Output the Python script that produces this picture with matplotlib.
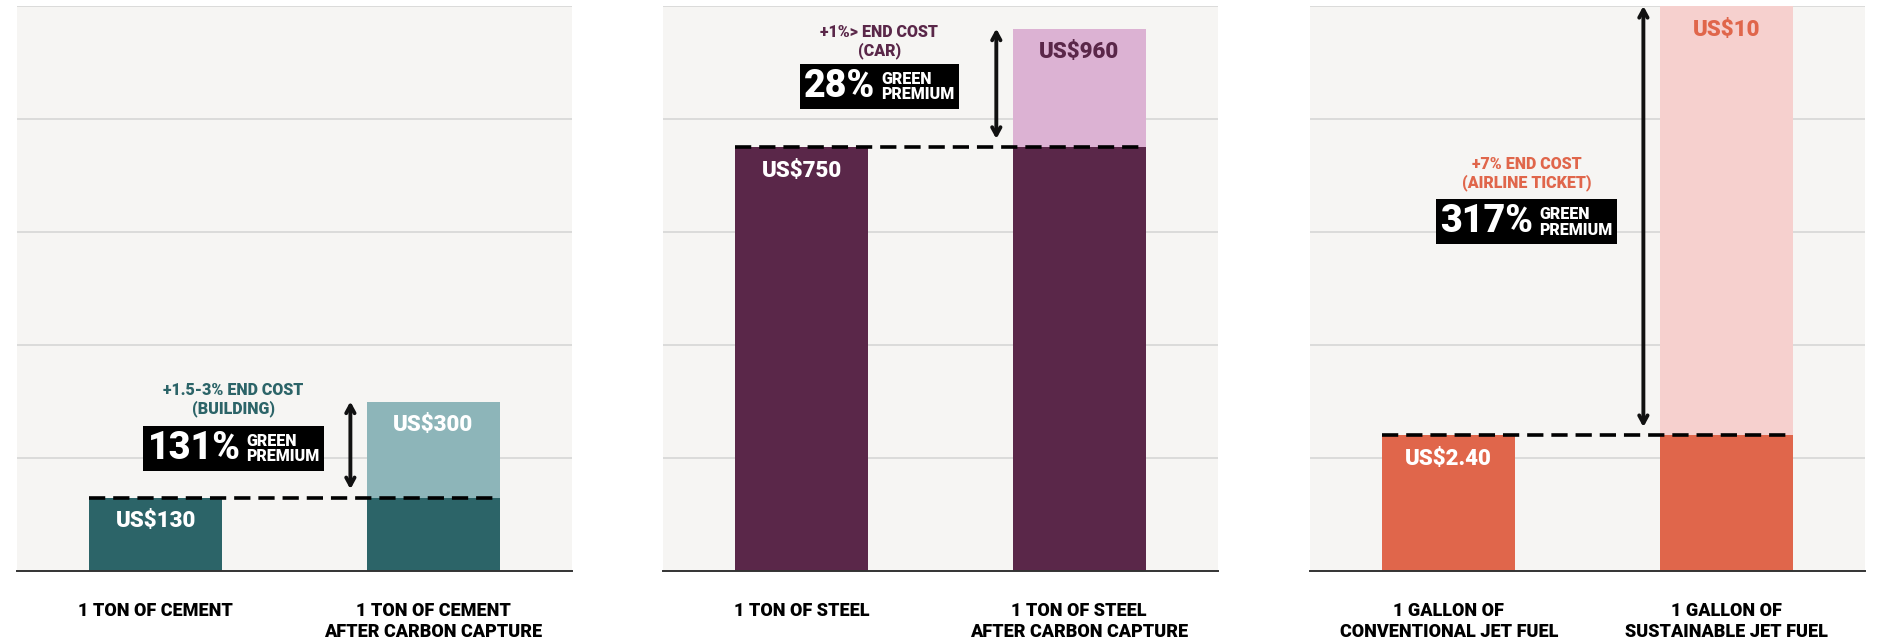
import matplotlib.pyplot as plt
from matplotlib.offsetbox import TextArea, HPacker, AnnotationBbox

plt.rcParams['font.family'] = ['Roboto', 'DejaVu Sans']
plt.rcParams['font.weight'] = 'heavy'

# unit cost before / after switching to the low-carbon option
categories = [
    ['1 TON OF CEMENT', '1 TON OF CEMENT\nAFTER CARBON CAPTURE'],
    ['1 TON OF STEEL', '1 TON OF STEEL\nAFTER CARBON CAPTURE'],
    ['1 GALLON OF\nCONVENTIONAL JET FUEL', '1 GALLON OF\nSUSTAINABLE JET FUEL'],
]
base_cost = [130, 750, 2.40]
green_cost = [300, 960, 10]
premium = ['131%', '28%', '317%']
end_cost = ['+1.5-3% END COST\n(BUILDING)', '+1%> END COST\n(CAR)', '+7% END COST\n(AIRLINE TICKET)']
y_max = [1000, 1000, 10]
y_step = [200, 200, 2]

dark = ['#2c6468', '#5a2749', '#e0664b']
light = ['#8db5b9', '#dcb2d3', '#f6d0ce']
top_label = ['white', '#5a2749', '#e0664b']
# where the premium box and the end-cost note sit (axes fraction)
box_y = [0.217, 0.857, 0.618]
note_y = [0.304, 0.937, 0.703]

BG = '#f6f5f3'


def money(v):
    return f'US${v:.2f}' if v % 1 else f'US${v:.0f}'


fig = plt.figure(figsize=(18.97, 6.38), dpi=100)
lefts = [0.009, 0.3495, 0.6906]

for i in range(3):
    ax = fig.add_axes([lefts[i], 0.105, 0.2925, 0.8856])
    ax.set_facecolor(BG)
    w = 0.48
    lo, hi = base_cost[i], green_cost[i]

    ax.bar([0, 1], [lo, lo], width=w, color=dark[i], zorder=2)
    ax.bar([1], [hi - lo], bottom=[lo], width=w, color=light[i], zorder=2)

    # dashed reference line at the conventional price
    ax.plot([-w / 2, 1 + w / 2], [lo, lo], color='black', lw=2.6,
            linestyle=(0, (4.5, 2.2)), zorder=3, solid_capstyle='butt')

    ax.annotate(money(lo), (0, lo), xytext=(0, -17), textcoords='offset points',
                ha='center', va='center', color='white', fontsize=16, zorder=4)
    ax.annotate(money(hi), (1, hi), xytext=(0, -17), textcoords='offset points',
                ha='center', va='center', color=top_label[i], fontsize=16, zorder=4)

    # double arrow spanning the premium
    ax.annotate('', xy=(0.6007, hi), xycoords=('axes fraction', 'data'),
                xytext=(0.6007, lo), textcoords=('axes fraction', 'data'),
                arrowprops=dict(arrowstyle='<->, head_length=0.55, head_width=0.3',
                                lw=2.8, color='#111111', shrinkA=6, shrinkB=0),
                annotation_clip=False, zorder=5)

    packer = HPacker(children=[
        TextArea(premium[i], textprops=dict(color='white', fontsize=27, fontweight='heavy')),
        TextArea('GREEN\nPREMIUM', textprops=dict(color='white', fontsize=11.5,
                                                   fontweight='heavy', linespacing=0.95)),
    ], align='center', pad=0, sep=4)
    ab = AnnotationBbox(packer, (0.39, box_y[i]), xycoords='axes fraction',
                        frameon=True, pad=0.4, box_alignment=(0.5, 0.5),
                        bboxprops=dict(facecolor='black', edgecolor='none', boxstyle='square'),
                        zorder=6)
    ax.add_artist(ab)

    ax.text(0.39, note_y[i], end_cost[i], transform=ax.transAxes, ha='center',
            va='center', color=dark[i], fontsize=11.5, linespacing=1.15)

    ax.set_xlim(-0.5, 1.5)
    ax.set_ylim(0, y_max[i])
    ax.set_yticks([y_step[i] * k for k in range(1, 6)])
    ax.yaxis.grid(True, color='#d6d6d6', lw=1.2, zorder=0)
    ax.set_yticklabels([])
    ax.tick_params(axis='y', length=0)
    ax.set_xticks([0, 1], categories[i])
    ax.tick_params(axis='x', length=0, pad=22, labelsize=13)
    for t in ax.get_xticklabels():
        t.set_verticalalignment('top')
        t.set_linespacing(1.25)
    for s in ['top', 'left', 'right']:
        ax.spines[s].set_visible(False)
    ax.spines['bottom'].set_color('#333333')
    ax.spines['bottom'].set_linewidth(1.4)
    ax.spines['bottom'].set_zorder(5)

fig.savefig('out.png', dpi=100, facecolor='white')
